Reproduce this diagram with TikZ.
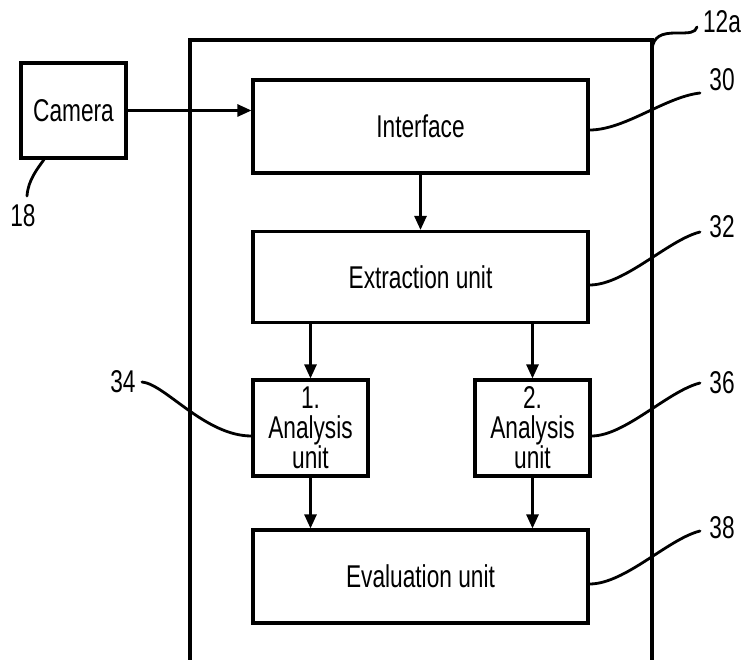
\documentclass[tikz,border=0pt]{standalone}
\usepackage{fontspec}
\setmainfont{Liberation Sans}[FakeStretch=0.72]
\usetikzlibrary{arrows.meta}
\begin{document}
\begin{tikzpicture}[x=1pt,y=-1pt,
  font=\fontsize{31.5}{30}\selectfont,
  box/.style={draw, line width=3.1pt, rectangle, inner sep=0pt, align=center},
  arr/.style={line width=2.6pt, -{Triangle[length=14pt,width=12pt]}},
  lead/.style={line width=2.8pt, line cap=round},
  lbl/.style={inner sep=0pt}]
\useasboundingbox (0,0) rectangle (745,660);
% outer housing 12a
\coordinate (obl) at (190,662);
\coordinate (otl) at (190,40);
\coordinate (otr) at (652,40);
\coordinate (obr) at (652,662);
\draw[line width=3.1pt] (obl) -- (otl) -- (otr) -- (obr);
% blocks
\node[box, minimum width=105pt, minimum height=95pt] (camera) at (73.5,110.5) {Camera};
\node[box, minimum width=335pt, minimum height=93pt] (iface) at (420.5,126.5) {Interface};
\node[box, minimum width=335pt, minimum height=91pt] (extract) at (420.5,277) {Extraction unit};
\node[box, minimum width=115pt, minimum height=96pt] (a1) at (310.5,428) {1.\\Analysis\\unit};
\node[box, minimum width=115pt, minimum height=96pt] (a2) at (532.5,428) {2.\\Analysis\\unit};
\node[box, minimum width=335pt, minimum height=93pt] (eval) at (420.5,576.5) {Evaluation unit};
% arrows
\draw[arr] (camera.east) -- (camera.east -| iface.west);
\draw[arr] (iface) -- (extract);
\draw[arr] (extract.south -| a1) -- (a1);
\draw[arr] (extract.south -| a2) -- (a2);
\draw[arr] (a1) -- (eval.north -| a1);
\draw[arr] (a2) -- (eval.north -| a2);
% reference labels
\node[lbl] (l12a) at (722,22) {12a};
\node[lbl] (l30) at (722,80) {30};
\node[lbl] (l32) at (722,227) {32};
\node[lbl] (l36) at (722,383) {36};
\node[lbl] (l38) at (722,528) {38};
\node[lbl] (l34) at (123,382) {34};
\node[lbl] (l18) at (23,216) {18};
% leader ends
\coordinate (e12a) at (697,27);
\coordinate (s12a) at (652,50);
\coordinate (e30) at (700,93);
\coordinate (e32) at (700,232);
\coordinate (e36) at (700,383);
\coordinate (e38) at (700,531);
\coordinate (e34) at (142,382);
\coordinate (e18) at (27,196);
% leaders
\draw[lead] (s12a) .. controls (653,36) and (662,33) .. (676,33) .. controls (690,33) and (695,33) .. (e12a);
\draw[lead] (iface.east |- 0,130) .. controls (625,130) and (665,97) .. (e30);
\draw[lead] (extract.east |- 0,285) .. controls (625,285) and (668,240) .. (e32);
\draw[lead] (a2.east |- 0,436) .. controls (625,436) and (668,391) .. (e36);
\draw[lead] (eval.east |- 0,584) .. controls (625,584) and (668,539) .. (e38);
\draw[lead] (e34) .. controls (165,384) and (205,436) .. (a1.west |- 0,436);
\draw[lead] (camera.south -| 44,0) .. controls (38,168) and (28,180) .. (e18);
\end{tikzpicture}
\end{document}
